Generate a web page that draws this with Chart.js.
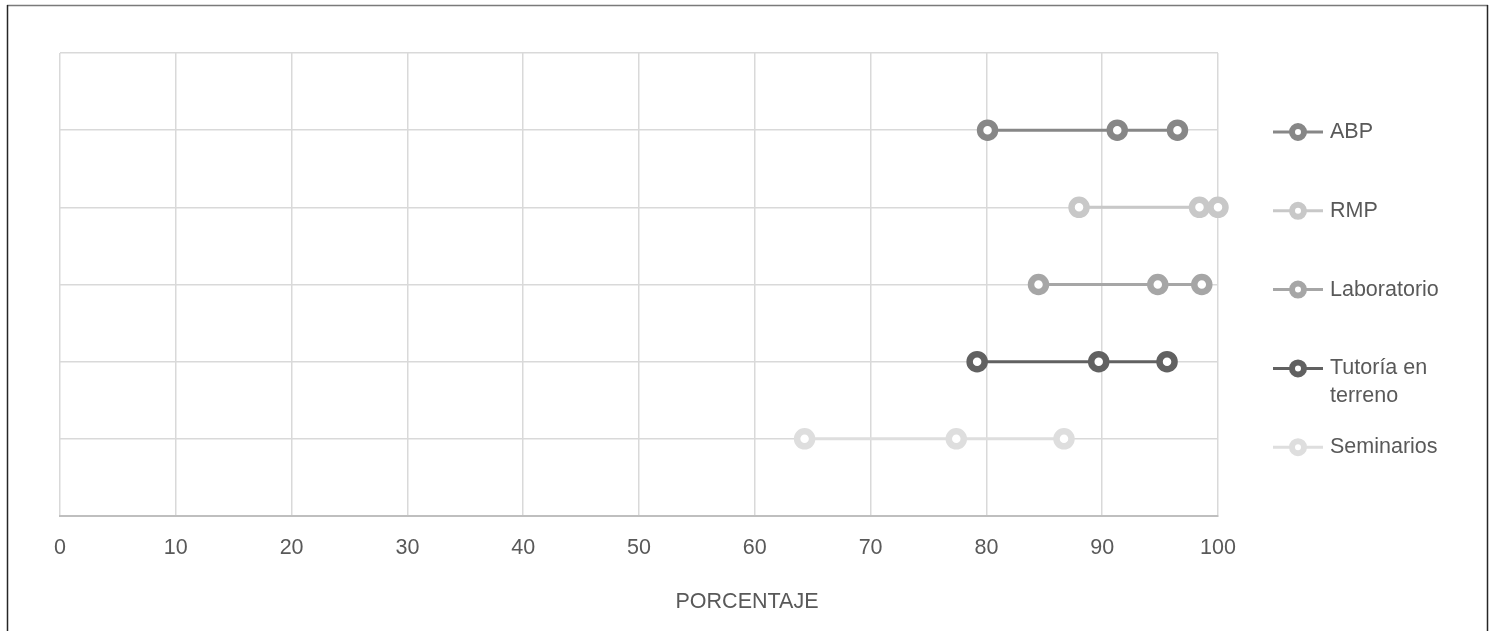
<!DOCTYPE html>
<html>
<head>
<meta charset="utf-8">
<script src="https://cdn.jsdelivr.net/npm/chart.js@4/dist/chart.umd.min.js"></script>
<style>
html,body{margin:0;padding:0;background:#fff;}
#wrap{width:1494px;height:631px;position:relative;}
</style>
</head>
<body>
<div id="wrap"><canvas id="c" width="1494" height="631"></canvas></div>
<script>
const categories = ['ABP', 'RMP', 'Laboratorio', 'Tutoría en terreno', 'Seminarios'];
const abpValues = [80.1, 91.3, 96.5];
const rmpValues = [88.0, 98.4, 100];
const labValues = [84.5, 94.8, 98.6];
const tutValues = [79.2, 89.7, 95.6];
const semValues = [64.3, 77.4, 86.7];
const seriesValues = [abpValues, rmpValues, labValues, tutValues, semValues];
const seriesColors = ['#878787', '#c8c8c8', '#a6a6a6', '#616161', '#dedede'];
const xTicks = [0, 10, 20, 30, 40, 50, 60, 70, 80, 90, 100];
const xTitle = 'PORCENTAJE';

const FONT = "'Liberation Sans', Arial, sans-serif";
const TEXT = '#595959';
const FSIZE = 21.5;

const datasets = categories.map((name, i) => ({
  label: name,
  data: seriesValues[i].map(v => ({x: v, y: categories.length - i})),
  showLine: true,
  borderColor: seriesColors[i],
  backgroundColor: '#ffffff',
  pointBackgroundColor: '#ffffff',
  pointBorderColor: seriesColors[i],
  borderWidth: 3,
  pointRadius: 7.5,
  pointBorderWidth: 6.5,
  pointHoverRadius: 7.5,
  clip: false
}));

const framePlugin = {
  id: 'frameLegend',
  afterDraw(chart) {
    const ctx = chart.ctx;
    ctx.save();
    // frame
    ctx.lineWidth = 1.5;
    ctx.strokeStyle = '#7a7a7a';
    ctx.beginPath(); ctx.moveTo(7, 5.5); ctx.lineTo(1488, 5.5); ctx.stroke();
    ctx.strokeStyle = '#262626';
    ctx.beginPath(); ctx.moveTo(7.5, 5); ctx.lineTo(7.5, 631); ctx.stroke();
    ctx.beginPath(); ctx.moveTo(1487.5, 5); ctx.lineTo(1487.5, 631); ctx.stroke();
    // legend
    const lx0 = 1273, lx1 = 1323, mx = 1298, tx = 1330;
    ctx.font = FSIZE + 'px ' + FONT;
    ctx.textBaseline = 'middle';
    ctx.textAlign = 'left';
    chart.data.datasets.forEach((ds, i) => {
      const y = 132 + i * 78.8;
      ctx.strokeStyle = ds.borderColor;
      ctx.lineWidth = 3;
      ctx.beginPath(); ctx.moveTo(lx0, y); ctx.lineTo(lx1, y); ctx.stroke();
      ctx.fillStyle = '#ffffff';
      ctx.lineWidth = 6;
      ctx.beginPath(); ctx.arc(mx, y, 6, 0, Math.PI * 2); ctx.fill(); ctx.stroke();
      const words = ds.label.split(' ');
      const lines = [];
      let cur = '';
      words.forEach(w => {
        const t = cur ? cur + ' ' + w : w;
        if (ctx.measureText(t).width > 135 && cur) { lines.push(cur); cur = w; }
        else cur = t;
      });
      lines.push(cur);
      ctx.fillStyle = TEXT;
      lines.forEach((ln, k) => ctx.fillText(ln, tx, y + k * 28));
    });
    ctx.restore();
  }
};

new Chart(document.getElementById('c'), {
  type: 'scatter',
  data: { datasets },
  options: {
    responsive: false,
    animation: false,
    layout: { padding: { top: 53, right: 0, left: 0, bottom: 0 } },
    plugins: {
      legend: { display: false },
      tooltip: { enabled: false },
      title: {
        display: true, position: 'bottom', text: xTitle, color: TEXT,
        font: { family: FONT, size: FSIZE, weight: 'normal' },
        padding: { top: 0, bottom: 16 }
      }
    },
    scales: {
      x: {
        type: 'linear', min: 0, max: 100,
        afterBuildTicks(scale) { scale.ticks = xTicks.map(v => ({value: v})); },
        afterFit(scale) { scale.height = 115 - (FSIZE * 1.2 + 16); },
        ticks: { color: TEXT, font: { family: FONT, size: FSIZE }, padding: 19, maxRotation: 0 },
        grid: { color: '#d9d9d9', lineWidth: 1.5, drawTicks: false },
        border: { color: '#bfbfbf', width: 2 }
      },
      y: {
        type: 'linear', min: 0, max: categories.length + 1,
        ticks: { display: false, stepSize: 1 },
        afterFit(scale) { scale.width = 60; },
        grid: { color: '#d9d9d9', lineWidth: 1.5, drawTicks: false },
        border: { display: false }
      },
      yRight: {
        type: 'linear', position: 'right', min: 0, max: categories.length + 1,
        ticks: { display: false },
        afterFit(scale) { scale.width = 276; },
        grid: { display: false, drawTicks: false },
        border: { display: false }
      }
    }
  },
  plugins: [framePlugin]
});
</script>
</body>
</html>
